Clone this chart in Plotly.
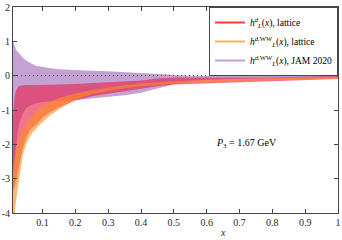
import plotly.graph_objects as go

x = [0.01, 0.0125, 0.015, 0.0175, 0.02, 0.025, 0.03, 0.04, 0.05, 0.06, 0.07, 0.08,
     0.1, 0.12, 0.15, 0.2, 0.25, 0.3, 0.35, 0.4, 0.45, 0.5, 0.55, 0.6, 0.7, 0.8, 0.9, 1.0]

jam_upper = [1.0, 0.93, 0.87, 0.8, 0.75, 0.7, 0.64, 0.52, 0.44, 0.38, 0.33, 0.29,
             0.25, 0.22, 0.19, 0.16, 0.14, 0.13, 0.11, 0.09, 0.06, 0.03, 0.0, -0.01,
             -0.01, -0.01, -0.01, 0.0]
jam_lower = [-3.0, -2.8, -2.6, -2.3, -2.0, -1.6, -1.35, -1.1, -0.95, -0.88, -0.83, -0.8,
             -0.77, -0.75, -0.73, -0.71, -0.67, -0.62, -0.57, -0.5, -0.37, -0.25, -0.16,
             -0.12, -0.09, -0.07, -0.05, -0.04]

lat_upper = [-1.2, -0.85, -0.62, -0.5, -0.42, -0.34, -0.3, -0.28, -0.27, -0.27, -0.27,
             -0.27, -0.27, -0.27, -0.26, -0.24, -0.22, -0.2, -0.17, -0.14, -0.08, -0.05,
             -0.05, -0.05, -0.06, -0.05, -0.03, -0.01]
lat_lower = [-3.3, -3.3, -3.25, -3.15, -3.05, -2.85, -2.6, -2.1, -1.8, -1.62, -1.5,
             -1.42, -1.22, -1.08, -0.92, -0.72, -0.6, -0.52, -0.45, -0.38, -0.31, -0.26,
             -0.23, -0.21, -0.19, -0.16, -0.13, -0.1]

ww_upper = [-2.7, -2.6, -2.45, -2.3, -2.15, -1.95, -1.8, -1.6, -1.42, -1.28, -1.15,
            -1.05, -0.88, -0.77, -0.65, -0.52, -0.42, -0.34, -0.28, -0.23, -0.19, -0.16,
            -0.14, -0.12, -0.1, -0.08, -0.06, -0.04]
ww_lower = [-5.0, -4.6, -4.05, -3.8, -3.6, -3.25, -2.9, -2.3, -2.0, -1.8, -1.65, -1.55,
            -1.35, -1.18, -0.98, -0.7, -0.54, -0.44, -0.37, -0.31, -0.27, -0.23, -0.2,
            -0.18, -0.15, -0.12, -0.1, -0.08]

x_ticks = [0.1, 0.2, 0.3, 0.4, 0.5, 0.6, 0.7, 0.8, 0.9, 1.0]
x_ticktext = ["0.1", "0.2", "0.3", "0.4", "0.5", "0.6", "0.7", "0.8", "0.9", "1"]
y_ticks = [-4, -3, -2, -1, 0, 1, 2]
y_ticktext = ["-4", "-3", "-2", "-1", "0", "1", "2"]

names = [
    "<i>h</i><sup><i>d</i></sup><sub><i>L</i></sub>(<i>x</i>), lattice",
    "<i>h</i><sup><i>d</i>,WW</sup><sub><i>L</i></sub>(<i>x</i>), lattice",
    "<i>h</i><sup><i>d</i>,WW</sup><sub><i>L</i></sub>(<i>x</i>), JAM 2020",
]
line_colors = ["rgb(255,60,60)", "rgb(255,175,90)", "rgb(195,160,215)"]

FONT = "Liberation Serif, DejaVu Serif, serif"
fig = go.Figure()


def band(lo, hi, color):
    fig.add_trace(go.Scatter(
        x=x + x[::-1], y=hi + lo[::-1], fill="toself", fillcolor=color,
        line=dict(width=0), mode="lines", showlegend=False, hoverinfo="skip"))


band(jam_lower, jam_upper, "rgba(140,70,170,0.5)")
band(lat_lower, lat_upper, "rgba(232,30,75,0.62)")
band(ww_lower, ww_upper, "rgba(255,140,30,0.62)")

fig.add_trace(go.Scatter(x=[x[0], x[-1]], y=[0, 0], mode="lines",
                         line=dict(color="rgb(60,60,80)", width=1, dash="1px,3px"),
                         showlegend=False, hoverinfo="skip"))

for n, c in zip(names, line_colors):
    fig.add_trace(go.Scatter(x=[None], y=[None], mode="lines", name=n,
                             line=dict(color=c, width=2)))

fig.add_annotation(x=0.72, y=-1.97, text="<i>P</i><sub>3</sub> = 1.67 GeV",
                   showarrow=False, font=dict(family=FONT, size=10, color="black"))
fig.add_annotation(x=0.65, xref="x", y=0, yref="paper", yshift=-19, text="<i>x</i>",
                   showarrow=False, yanchor="middle",
                   font=dict(family=FONT, size=10, color="rgb(40,40,40)"))

axis_common = dict(showline=True, linecolor="rgb(70,70,70)", linewidth=1, mirror="ticks",
                   ticks="inside", ticklen=4, tickcolor="rgb(70,70,70)", showgrid=False,
                   zeroline=False, automargin=False,
                   tickfont=dict(family=FONT, size=10, color="rgb(40,40,40)"))

fig.update_layout(
    width=342, height=240,
    margin=dict(l=13, r=4, t=7, b=27),
    paper_bgcolor="white", plot_bgcolor="white",
    showlegend=True,
    legend=dict(x=1, y=1, xanchor="right", yanchor="top", bgcolor="white",
                bordercolor="rgb(70,70,70)", borderwidth=1,
                font=dict(family=FONT, size=9.5, color="black"),
                tracegroupgap=0, itemwidth=30),
    xaxis=dict(range=[0.01, 1], tickvals=x_ticks, ticktext=x_ticktext, **axis_common),
    yaxis=dict(range=[-4, 2], tickvals=y_ticks, ticktext=y_ticktext, **axis_common),
)

fig.write_html("out.html", config={"displayModeBar": False},
               post_script="document.body.style.margin='0';")
